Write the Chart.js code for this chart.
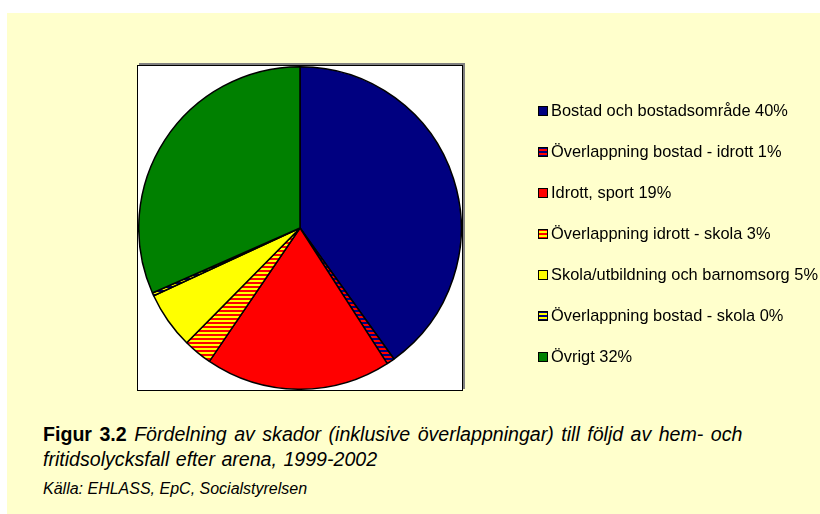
<!DOCTYPE html>
<html>
<head>
  <title>Figur 3.2</title>
  <script src="https://cdn.jsdelivr.net/npm/chart.js"></script>
  <style>
    body {
        margin: 0;
        background: #ffffff;
        width: 820px;
        height: 514px;
        overflow: hidden;
        font-family: 'Liberation Sans', Arial, sans-serif;
    }
    .panel {
        position: absolute;
        left: 7px;
        top: 13px;
        width: 813px;
        height: 501px;
        background: #ffffcc;
    }
    /* white plot box with the grey shadow at top/right */
    .plot-box {
        position: absolute;
        left: 137px;
        top: 65px;
        width: 326px;
        height: 326px;
        box-sizing: border-box;
        background: #ffffff;
        border: 1px solid #000;
        box-shadow: 2px -2px 0 #808080;
    }
    .legend {
        position: absolute;
        left: 538px;
        top: 101px;
        font-size: 16.4px;
        color: #000;
    }
    .legend-row {
        height: 41px;
        white-space: nowrap;
        display: flex;
        align-items: flex-start;
    }
    .legend-row canvas {
        width: 10px;
        height: 10px;
        margin-top: 5px;
        margin-right: 3px;
    }
    .caption {
        position: absolute;
        left: 43px;
        top: 422px;
        font-size: 19.6px;
        line-height: 25px;
        word-spacing: 1px;
        color: #000;
    }
    .caption b { font-style: normal; }
    .caption i { font-style: italic; }
    .line1 { word-spacing: 2px; }
    .source {
        position: absolute;
        left: 43px;
        top: 480px;
        font-size: 16px;
        font-style: italic;
    }
  </style>
</head>
<body>
<div class="panel"></div>
<div class="plot-box">
  <canvas id="pieChart" width="324" height="324"></canvas>
</div>
<div class="legend" id="legend"></div>
<div class="caption">
  <span class="line1"><b>Figur 3.2</b> <i>Fördelning av skador (inklusive överlappningar) till följd av hem- och</i></span><br><i>fritidsolycksfall efter arena, 1999-2002</i>
</div>
<div class="source">Källa: EHLASS, EpC, Socialstyrelsen</div>

<script>
  // Arena categories (legend text as printed)
  const categories = [
      'Bostad och bostadsområde 40%',
      'Överlappning bostad - idrott 1%',
      'Idrott, sport 19%',
      'Överlappning idrott - skola 3%',
      'Skola/utbildning och barnomsorg 5%',
      'Överlappning bostad - skola 0%',
      'Övrigt 32%'
  ];
  // slice sizes (percent)
  const shares = [40.1, 0.8, 18.6, 2.9, 5.7, 0.3, 31.6];

  const BLUE = '#000080', RED = '#ff0000', YELLOW = '#ffff00', GREEN = '#008000';

  // horizontal two-colour stripes for the overlap slices
  function stripes(c1, c2) {
      const c = document.createElement('canvas');
      c.width = 4; c.height = 4;
      const g = c.getContext('2d');
      g.fillStyle = c1; g.fillRect(0, 0, 4, 4);
      g.fillStyle = c2; g.fillRect(0, 2, 4, 2);
      return g.createPattern(c, 'repeat');
  }

  const fills = [
      BLUE,
      stripes(BLUE, RED),
      RED,
      stripes(RED, YELLOW),
      YELLOW,
      stripes(BLUE, YELLOW),
      GREEN
  ];

  new Chart(document.getElementById('pieChart'), {
      type: 'pie',
      data: {
          labels: categories,
          datasets: [{
              data: shares,
              backgroundColor: fills,
              borderColor: '#000',
              borderWidth: 1.5
          }]
      },
      options: {
          responsive: false,
          animation: false,
          layout: { padding: 0 },
          plugins: {
              legend: { display: false },
              tooltip: { enabled: false }
          }
      }
  });

  // legend on the right
  const legend = document.getElementById('legend');
  categories.forEach((name, i) => {
      const row = document.createElement('div');
      row.className = 'legend-row';
      const sw = document.createElement('canvas');
      sw.width = 10; sw.height = 10;
      const g = sw.getContext('2d');
      g.fillStyle = '#000';
      g.fillRect(0, 0, 10, 10);
      g.fillStyle = fills[i];
      g.fillRect(1, 1, 8, 8);
      const txt = document.createElement('span');
      txt.textContent = name;
      row.appendChild(sw);
      row.appendChild(txt);
      legend.appendChild(row);
  });
</script>
</body>
</html>
